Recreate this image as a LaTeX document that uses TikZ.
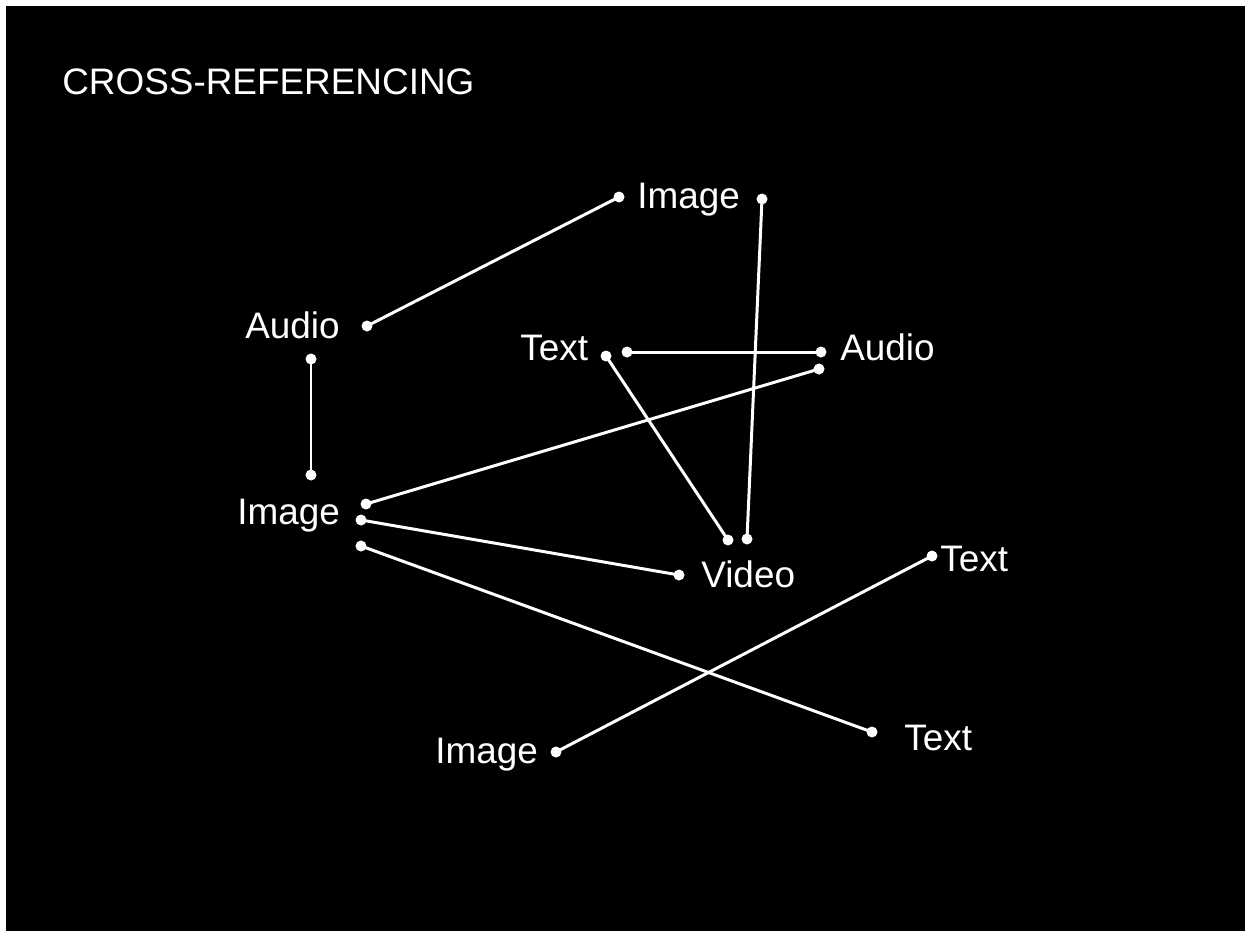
\documentclass[tikz,border=0pt]{standalone}
\usepackage{fontspec}
\setmainfont{Liberation Sans}
\usetikzlibrary{positioning,calc}

\begin{document}
\begin{tikzpicture}[x=0.02cm,y=-0.02cm,
    label/.style={text=white, font=\fontsize{21}{25}\selectfont, inner sep=0pt, anchor=base west},
    link/.style={draw=white, line width=1.7pt},
    dot/.style={fill=white}]
    % page and background
    \useasboundingbox (0,0) rectangle (1245,931);
    \fill [black] (6,6) rectangle (1245,931);

    % Title
    \node [label] (title) at (62,94) {CROSS-REFERENCING};

    % Labels
    \node [label] (imgtop) at (637,208) {Image};
    \node [label] (audleft) at (245,338) {Audio};
    \node [label] (txtmid) at (520,360) {Text};
    \node [label] (audright) at (840,360) {Audio};
    \node [label] (imgleft) at (237,524) {Image};
    \node [label] (video) at (701,587) {Video};
    \node [label] (txtright) at (940,571) {Text};
    \node [label] (txtbot) at (904,750) {Text};
    \node [label] (imgbot) at (435,763) {Image};

    % Dot ends
    \coordinate (imgtop-a) at (619,197);
    \coordinate (imgtop-b) at (762,199);
    \coordinate (audleft-a) at (367,326);
    \coordinate (audleft-b) at (311,359);
    \coordinate (txtmid-a) at (606,356);
    \coordinate (txtmid-b) at (627,352);
    \coordinate (audright-a) at (821,352);
    \coordinate (audright-b) at (819,369);
    \coordinate (imgleft-a) at (311,475);
    \coordinate (imgleft-b) at (366,504);
    \coordinate (imgleft-c) at (361,520);
    \coordinate (imgleft-d) at (361,546);
    \coordinate (video-a) at (728,540);
    \coordinate (video-b) at (747,539);
    \coordinate (video-c) at (679,575);
    \coordinate (txtright-a) at (932,556);
    \coordinate (txtbot-a) at (872,732);
    \coordinate (imgbot-a) at (556,752);

    % Connectors
    \foreach \a/\b in {imgtop-a/audleft-a, imgtop-b/video-b, audleft-b/imgleft-a,
                       txtmid-a/video-a, txtmid-b/audright-a, audright-b/imgleft-b,
                       imgleft-c/video-c, imgleft-d/txtbot-a, txtright-a/imgbot-a}
    {
        \draw [link] (\a) -- (\b);
        \fill [dot] (\a) circle (5.5);
        \fill [dot] (\b) circle (5.5);
    }
\end{tikzpicture}
\end{document}
